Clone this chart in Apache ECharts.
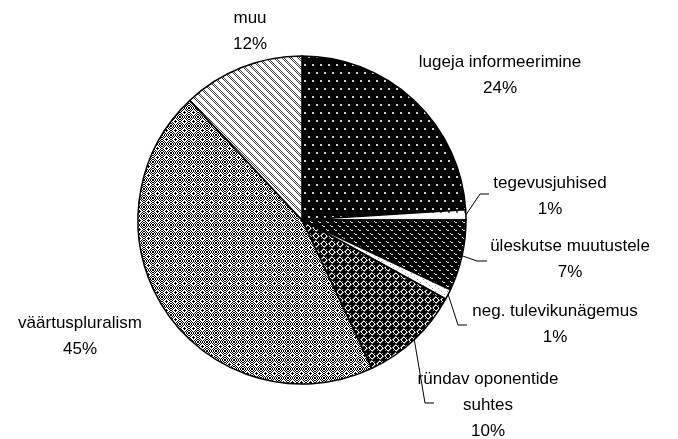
<!DOCTYPE html>
<html>
<head>
<meta charset="utf-8">
<script src="https://cdn.jsdelivr.net/npm/echarts@6/dist/echarts.min.js"></script>
<style>
html, body { margin: 0; padding: 0; background: #fff; }
#chart { width: 678px; height: 439px; }
</style>
</head>
<body>
<div id="chart"></div>
<script>
// data, clockwise from 12 o'clock
var categories = ['lugeja informeerimine', 'tegevusjuhised', 'üleskutse muutustele',
	'neg. tulevikunägemus', 'ründav oponentide\nsuhtes', 'väärtuspluralism', 'muu'];
var values = [24, 1, 7, 1, 10, 45, 12];

// where each label sits, and the elbow of its leader line (null = no line)
var labelPos = [[500, 75], [550, 196], [570, 259], [555, 324], [488, 405], [80, 336], [250, 31]];
var lineElbow = [null, [480, 194], [477, 261], [458, 325], [425, 403], null, null];
var lineEnd = [null, [489, 194], [487, 261], [467, 325], [434, 403], null, null];

// little bitmap tiles that imitate the old b/w fill patterns
function makeTile(w, h, fn) {
	var c = document.createElement('canvas');
	c.width = w; c.height = h;
	var ctx = c.getContext('2d');
	for (var y = 0; y < h; y++) {
		for (var x = 0; x < w; x++) {
			var col = fn(x, y);
			if (col) {
				ctx.fillStyle = col;
				ctx.fillRect(x, y, 1, 1);
			}
		}
	}
	return { image: c, repeat: 'repeat' };
}

function dist(x, y, cx, cy) {
	return Math.sqrt((x - cx) * (x - cx) + (y - cy) * (y - cy));
}

var patterns = [
	// lugeja: black with light dots
	makeTile(16, 16, function(x, y) {
		var dot = (x < 2 && y < 2) || (x >= 8 && x < 10 && y < 2) ||
			(x >= 4 && x < 6 && y >= 8 && y < 10) || (x >= 12 && x < 14 && y >= 8 && y < 10);
		return dot ? '#d0d0d0' : '#000';
	}),
	// tegevusjuhised: white with dark dots
	makeTile(8, 8, function(x, y) {
		return (x < 2 && y >= 3 && y < 5) ? '#666' : '#fff';
	}),
	// üleskutse: black with short white dashes
	makeTile(8, 8, function(x, y) {
		var d = (x === 2 && y === 1) || (x === 3 && y === 2) || (x === 4 && y === 2) ||
			(x === 6 && y === 5) || (x === 7 && y === 6) || (x === 0 && y === 6);
		return d ? '#e0e0e0' : '#000';
	}),
	// neg: almost white with light dots
	makeTile(6, 6, function(x, y) {
		return (x === 0 && y === 0) || (x === 3 && y === 3) ? '#999' : '#fff';
	}),
	// ründav: black with thin white rings
	makeTile(8, 8, function(x, y) {
		var d = dist(x, y, 3.5, 3.5);
		if (d > 1.6 && d < 2.9) return '#fff';
		if (d >= 2.9 && (x + y) % 2 === 1 && d < 3.6) return '#888';
		return '#000';
	}),
	// väärtuspluralism: white rings with black centre on a checker
	makeTile(9, 9, function(x, y) {
		var d = dist(x, y, 4, 4);
		if (d < 1.1) return '#000';
		if (d < 2.8) return '#fff';
		return ((x + y) % 2 === 0) ? '#000' : '#fff';
	}),
	// muu: dotted diagonal stripes on white
	makeTile(8, 8, function(x, y) {
		var k = ((x - y) % 8 + 8) % 8;
		return (k < 3 && (x + y) % 2 === 0) ? '#444' : '#fff';
	})
];

var pieData = [];
for (var i = 0; i < categories.length; i++) {
	pieData.push({
		name: categories[i],
		value: values[i],
		itemStyle: { color: patterns[i] },
		labelLine: { show: lineElbow[i] !== null }
	});
}

var myChart = echarts.init(document.getElementById('chart'), null, { renderer: 'canvas' });

var option = {
	backgroundColor: '#fff',
	animation: false,
	series: [{
		type: 'pie',
		center: [302, 220],
		radius: 164,
		startAngle: 90,
		clockwise: true,
		avoidLabelOverlap: false,
		silent: true,
		data: pieData,
		itemStyle: {
			borderColor: '#000',
			borderWidth: 1.5
		},
		label: {
			show: true,
			position: 'outside',
			formatter: function(p) {
				return p.name + '\n' + p.value + '%';
			},
			fontFamily: 'Liberation Sans',
			fontSize: 17,
			lineHeight: 26,
			color: '#000',
			align: 'center'
		},
		labelLine: {
			show: true,
			lineStyle: { color: '#000', width: 1 }
		},
		labelLayout: function(params) {
			var i = params.dataIndex;
			var res = {
				x: labelPos[i][0],
				y: labelPos[i][1],
				align: 'center',
				verticalAlign: 'middle'
			};
			if (lineElbow[i] && params.labelLinePoints) {
				res.labelLinePoints = [params.labelLinePoints[0], lineElbow[i], lineEnd[i]];
			}
			return res;
		}
	}]
};

myChart.setOption(option);
</script>
</body>
</html>
